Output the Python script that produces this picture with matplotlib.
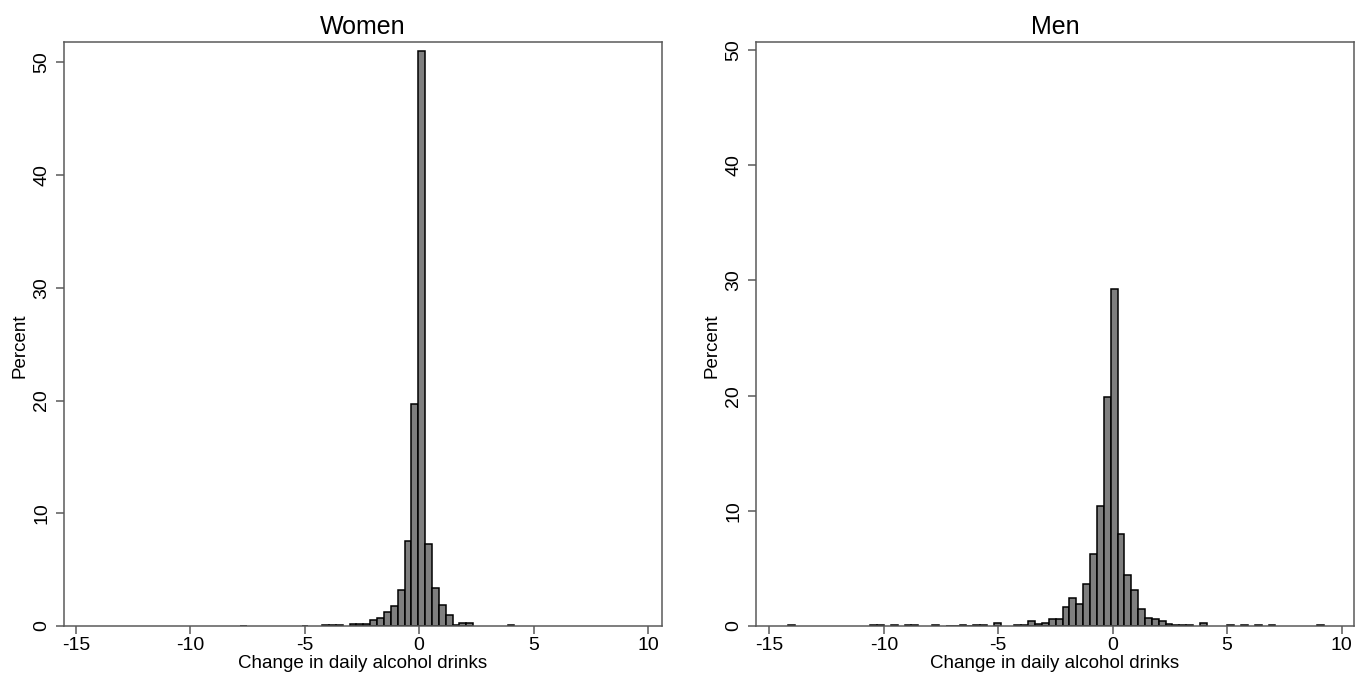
import matplotlib
matplotlib.use("Agg")
import matplotlib.pyplot as plt
import numpy as np

plt.rcParams['font.family'] = ['Liberation Sans', 'DejaVu Sans']
plt.rcParams['axes.unicode_minus'] = False

# histogram bins: left edge = start + width * bin number
bin_width = 0.3

women_start = -0.04
women_bins = [-26, -17, -14, -13, -12, -10, -9, -8, -7, -6, -5, -4, -3, -2, -1,
              0, 1, 2, 3, 4, 5, 6, 7, 13]
women_pct = [0.04, 0.04, 0.05, 0.05, 0.05, 0.15, 0.15, 0.15, 0.53, 0.74, 1.27, 1.78, 3.2, 7.55, 19.7,
             51.0, 7.3, 3.37, 1.9, 0.95, 0.08, 0.25, 0.25, 0.12]

men_start = -0.09
men_bins = [-47, -35, -34, -32, -30, -29, -26, -24, -23, -22, -21, -20,
            -19, -17, -14, -13, -12, -11, -10, -9, -8, -7, -6, -5,
            -4, -3, -2, -1, 0, 1, 2, 3, 4, 5, 6, 7,
            8, 9, 10, 11, 13, 17, 19, 21, 23, 30]
men_pct = [0.07, 0.05, 0.05, 0.05, 0.05, 0.05, 0.06, 0.04, 0.04, 0.05, 0.04, 0.05,
           0.13, 0.26, 0.08, 0.1, 0.45, 0.15, 0.25, 0.58, 0.6, 1.62, 2.4, 1.94,
           3.68, 6.23, 10.4, 19.9, 29.3, 8.03, 4.4, 3.1, 1.5, 0.72, 0.58, 0.45,
           0.15, 0.08, 0.07, 0.07, 0.25, 0.07, 0.05, 0.05, 0.07, 0.07]

x_ticks = [-15, -10, -5, 0, 5, 10]
y_ticks = [0, 10, 20, 30, 40, 50]

W, H = 1370, 685
panels = [
    ("Women", women_start, women_bins, women_pct, (-15.52, 10.61), 51.8,
     [64 / W, (H - 626) / H, 598 / W, 584 / H]),
    ("Men", men_start, men_bins, men_pct, (-15.58, 10.54), 50.7,
     [756 / W, (H - 626) / H, 598 / W, 584 / H]),
]

fig = plt.figure(figsize=(13.7, 6.85), dpi=100)
fig.patch.set_facecolor("white")

frame_col = "#5a5a5a"
for title, start, bins, pct, xlim, ytop, rect in panels:
    ax = fig.add_axes(rect)
    left = start + bin_width * np.array(bins)
    ax.bar(left, pct, width=bin_width, align="edge", color="#7f7f7f",
           edgecolor="black", linewidth=1.1)
    ax.set_xlim(*xlim)
    ax.set_ylim(0, ytop)
    ax.set_xticks(x_ticks)
    ax.set_yticks(y_ticks)
    ax.set_yticklabels([str(v) for v in y_ticks], rotation=90, va="center")
    ax.tick_params(axis="both", direction="out", length=6, width=1.1,
                   color=frame_col, labelsize=14)
    ax.tick_params(axis="x", pad=2)
    ax.tick_params(axis="y", pad=4)
    for sp in ax.spines.values():
        sp.set_color(frame_col)
        sp.set_linewidth(1.1)
    ax.set_title(title, fontsize=18, pad=6)
    ax.set_xlabel("Change in daily alcohol drinks", fontsize=13.5, labelpad=0.5)
    ax.set_ylabel("Percent", fontsize=13.5, labelpad=3, y=0.48)

fig.savefig("out.png", dpi=100, facecolor="white")
